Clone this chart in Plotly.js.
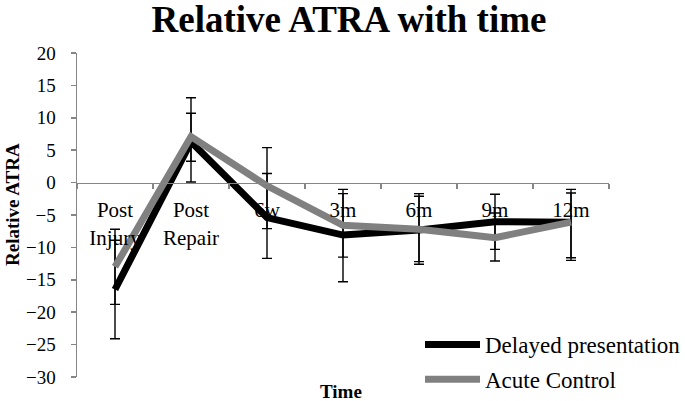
<!DOCTYPE html>
<html>
<head>
<meta charset="utf-8">
<script src="https://cdn.plot.ly/plotly-3.0.1.min.js"></script>
<style>html,body{margin:0;padding:0;background:#fff;}#chart{width:685px;height:401px;}</style>
</head>
<body>
<div id="chart"></div>
<script>
var categories = ['Post Injury', 'Post Repair', '6w', '3m', '6m', '9m', '12m'];
var tickLabels = ['Post<br>Injury', 'Post<br>Repair', '6w', '3m', '6m', '9m', '12m'];

var delayed = [-16.5, 6.3, -5.4, -8.1, -7.3, -6.05, -6.1];
var delayedErrPlus = [7.6, 6.8, 6.8, 7.05, 5.6, 4.25, 5.05];
var delayedErrMinus = [7.6, 6.2, 6.3, 7.2, 5.3, 4.25, 5.9];

var acute = [-13.0, 7.1, -0.5, -6.6, -7.2, -8.5, -6.1];
var acuteErrPlus = [5.8, 3.6, 5.9, 4.9, 5.1, 3.8, 4.5];
var acuteErrMinus = [5.8, 3.8, 6.6, 4.9, 5.0, 3.6, 5.5];

var serif = 'Liberation Serif, Times New Roman, serif';

var traces = [
  {
    x: categories, y: delayed, name: 'Delayed presentation', type: 'scatter', mode: 'lines',
    line: {color: '#000000', width: 7},
    legendgroup: 'a',
    error_y: {type: 'data', symmetric: false, array: delayedErrPlus, arrayminus: delayedErrMinus,
              color: '#000000', thickness: 1.4, width: 5}
  },
  {
    x: categories, y: acute, name: 'Acute Control', type: 'scatter', mode: 'lines',
    line: {color: '#808080', width: 7},
    legendgroup: 'b',
    error_y: {type: 'data', symmetric: false, array: acuteErrPlus, arrayminus: acuteErrMinus,
              color: '#000000', thickness: 1.4, width: 5}
  }
];

var layout = {
  width: 685, height: 401,
  margin: {l: 77, r: 76, t: 53, b: 24, autoexpand: false},
  paper_bgcolor: '#ffffff', plot_bgcolor: '#ffffff',
  showlegend: true,
  title: {
    text: '<b>Relative ATRA with time</b>',
    font: {family: serif, size: 37, color: '#000000'},
    x: 349 / 685, xref: 'container', xanchor: 'center',
    y: 1 - 19 / 401, yref: 'container', yanchor: 'middle'
  },
  xaxis: {
    type: 'category',
    categoryorder: 'array', categoryarray: categories,
    tickvals: categories, ticktext: tickLabels,
    range: [-0.5, 6.5],
    anchor: 'free', position: 0.6,
    showline: true, linecolor: '#868686', linewidth: 1.5,
    ticks: 'outside', tickson: 'boundaries', ticklen: 5, tickcolor: '#868686', tickwidth: 1.5,
    showgrid: false, zeroline: false, automargin: false, tickangle: 0,
    ticklabelstandoff: 8,
    tickfont: {family: serif, size: 21, color: '#000000'}
  },
  yaxis: {
    range: [-30, 20],
    dtick: 5, tick0: 0,
    showline: true, linecolor: '#868686', linewidth: 1.5,
    ticks: 'outside', ticklen: 5, tickcolor: '#868686', tickwidth: 1.5,
    showgrid: false, zeroline: false, automargin: false,
    ticklabelstandoff: 11,
    tickfont: {family: serif, size: 19, color: '#000000'}
  },
  legend: {
    xref: 'container', yref: 'container',
    x: 420 / 685, y: 1 - 323 / 401, xanchor: 'left', yanchor: 'top',
    font: {family: serif, size: 23, color: '#000000'},
    bgcolor: 'rgba(0,0,0,0)', tracegroupgap: 2, itemwidth: 55
  },
  annotations: [
    {text: '<b>Relative ATRA</b>', textangle: -90, xref: 'paper', yref: 'paper',
     x: (12 - 77) / 532, y: (377 - 205) / 324, xanchor: 'center', yanchor: 'middle', showarrow: false,
     font: {family: serif, size: 19, color: '#000000'}},
    {text: '<b>Time</b>', xref: 'paper', yref: 'paper',
     x: (341 - 77) / 532, y: (377 - 391) / 324, xanchor: 'center', yanchor: 'middle', showarrow: false,
     font: {family: serif, size: 19, color: '#000000'}}
  ]
};

Plotly.newPlot('chart', traces, layout, {displayModeBar: false, staticPlot: true});
</script>
</body>
</html>
